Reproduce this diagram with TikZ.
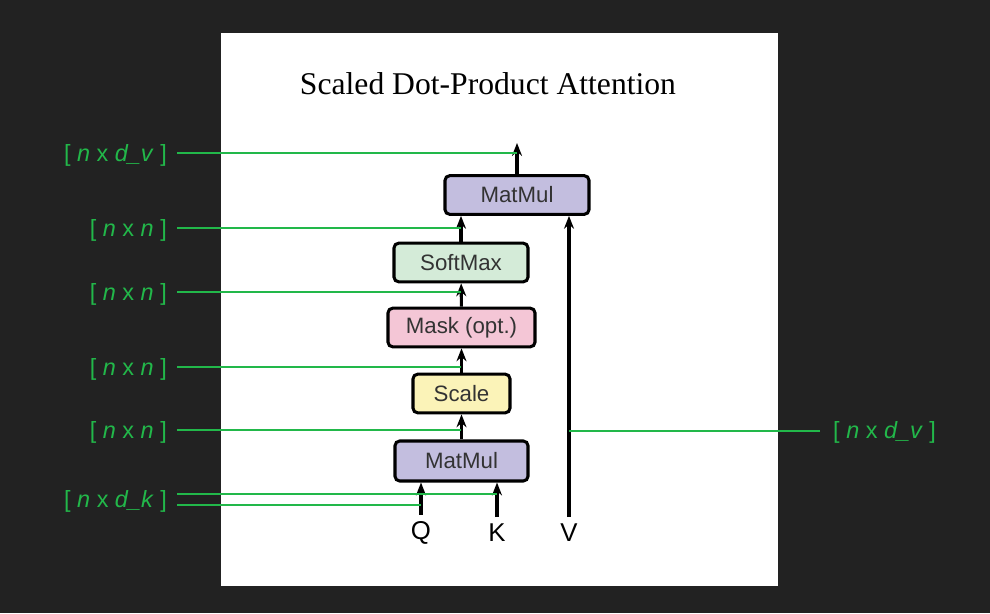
\documentclass[tikz,border=0pt]{standalone}
\usepackage{fontspec}
\setmainfont{Liberation Serif}
\setsansfont{Liberation Sans}
\usetikzlibrary{arrows.meta}
\definecolor{bgdark}{HTML}{222222}
\definecolor{dimgreen}{HTML}{22B84A}
\definecolor{mmpurple}{HTML}{C3BEDF}
\definecolor{smgreen}{HTML}{D4EBD8}
\definecolor{mkpink}{HTML}{F4C6D6}
\definecolor{scyellow}{HTML}{FBF3B8}
\newcommand{\dimlbl}[2]{[\ \textit{#1}\ x\ \textit{#2}\ ]}

\begin{document}
\begin{tikzpicture}[x=0.03cm,y=-0.03cm,
    opbox/.style={draw=black,line width=2.6pt,rounded corners=4pt,inner sep=0pt,
      minimum height=1.16cm,font=\sffamily\fontsize{19}{19}\selectfont,text=black!80},
    flow/.style={line width=2.6pt,-{Stealth[length=11pt,width=8.5pt]}},
    dimline/.style={draw=dimgreen,line width=1.8pt},
    dimtext/.style={text=dimgreen,font=\sffamily\fontsize{20}{20}\selectfont,inner sep=0pt},
    inlbl/.style={font=\sffamily\fontsize{22}{22}\selectfont,inner sep=0pt}]
    \useasboundingbox (0,0) rectangle (990,613);
    \fill[bgdark] (0,0) rectangle (990,613);
    \fill[white] (221,33) rectangle (778,586);
    \node (title) at (488,84) {\fontsize{27}{27}\selectfont Scaled Dot-Product Attention};
    % operation boxes
    \node[opbox,fill=mmpurple,minimum width=4.32cm] (matmul2) at (517,195) {MatMul};
    \node[opbox,fill=smgreen,minimum width=4.02cm]  (softmax) at (461,262.5) {SoftMax};
    \node[opbox,fill=mkpink,minimum width=4.41cm]   (mask)    at (461.5,327.5) {Mask (opt.)};
    \node[opbox,fill=scyellow,minimum width=2.91cm] (scale)   at (461.5,393.5) {Scale};
    \node[opbox,fill=mmpurple,minimum width=3.99cm,minimum height=1.2cm] (matmul1) at (461.5,461) {MatMul};
    % inputs
    \node[inlbl] (q) at (421,533) {Q};
    \node[inlbl] (k) at (497,533) {K};
    \node[inlbl] (v) at (569,533) {V};
    \coordinate (out) at (517,143);
    \draw[flow] ([yshift=0.2cm]q.north) -- (q.north |- matmul1.south);
    \draw[flow] ([yshift=0.2cm]k.north) -- (k.north |- matmul1.south);
    \draw[flow] ([yshift=0.2cm]v.north) -- (v.north |- matmul2.south);
    \draw[flow] (matmul1) -- (scale);
    \draw[flow] (scale) -- (mask);
    \draw[flow] (mask) -- (softmax);
    \draw[flow] (softmax.north) -- (softmax.north |- matmul2.south);
    \draw[flow] (matmul2) -- (out);
    % shape annotations
    \node[dimtext,anchor=east] (d-out) at (167,155) {\dimlbl{n}{d\_v}};
    \node[dimtext,anchor=east] (d-sm)  at (167,230) {\dimlbl{n}{n}};
    \node[dimtext,anchor=east] (d-mk)  at (167,294) {\dimlbl{n}{n}};
    \node[dimtext,anchor=east] (d-sc)  at (167,369) {\dimlbl{n}{n}};
    \node[dimtext,anchor=east] (d-mm)  at (167,432) {\dimlbl{n}{n}};
    \node[dimtext,anchor=east] (d-qk)  at (167,501) {\dimlbl{n}{d\_k}};
    \node[dimtext,anchor=west] (d-v)   at (833,432) {\dimlbl{n}{d\_v}};
    \draw[dimline] (d-out.east |- 0,153) ++(0.3cm,0) -- (out |- 0,153);
    \draw[dimline] (d-sm.east |- 0,228) ++(0.3cm,0) -- (softmax |- 0,228);
    \draw[dimline] (d-mk.east |- 0,292) ++(0.3cm,0) -- (softmax |- 0,292);
    \draw[dimline] (d-sc.east |- 0,367) ++(0.3cm,0) -- (softmax |- 0,367);
    \draw[dimline] (d-mm.east |- 0,430) ++(0.3cm,0) -- (softmax |- 0,430);
    \draw[dimline] (d-qk.east |- 0,494) ++(0.3cm,0) -- (k |- 0,494);
    \draw[dimline] (d-qk.east |- 0,505) ++(0.3cm,0) -- (q |- 0,505);
    \draw[dimline] (d-v.west |- 0,431) ++(-0.39cm,0) -- (v |- 0,431);
\end{tikzpicture}
\end{document}
